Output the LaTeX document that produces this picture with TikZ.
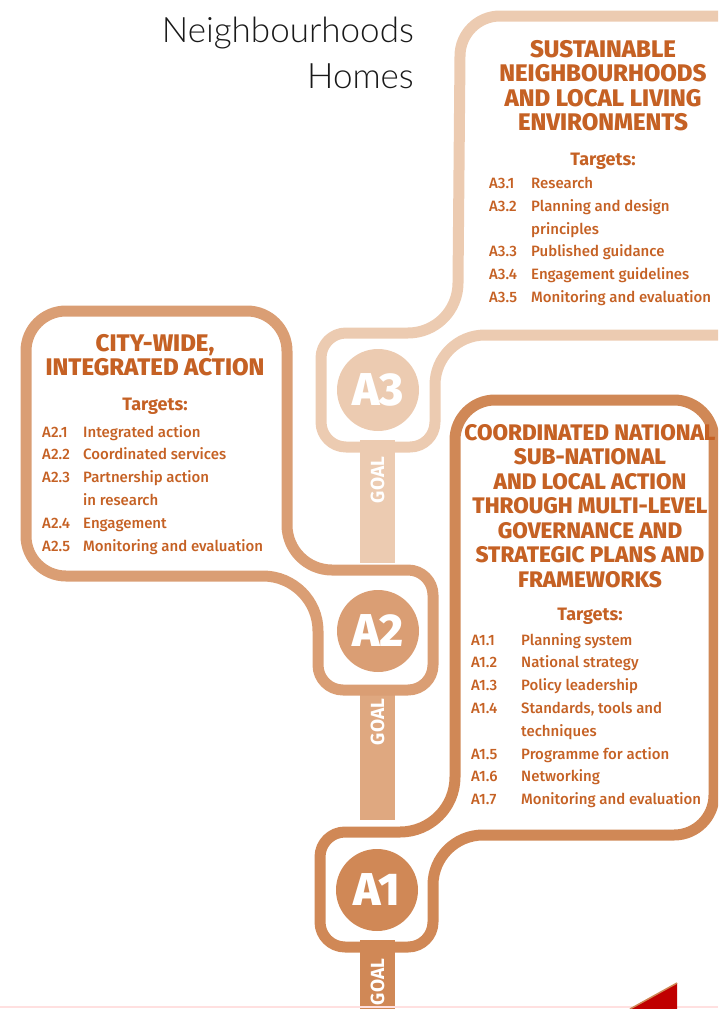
\documentclass[tikz,border=0pt]{standalone}
\usepackage{fontspec}
\setmainfont{Fira Sans}
\newfontfamily\ttlfont{Lato Light}
\newfontfamily\hdfont{Fira Sans ExtraBold}
\newfontfamily\itfont{Fira Sans Medium}
\usetikzlibrary{positioning}

\definecolor{gthree}{RGB}{236,203,177}
\definecolor{gtwo}{RGB}{218,158,116}
\definecolor{gtwostem}{RGB}{223,168,128}
\definecolor{gone}{RGB}{208,136,86}
\definecolor{txt}{RGB}{197,97,36}
\definecolor{redcorner}{RGB}{192,0,0}

% target line: label in a fixed box, then the text
\newcommand{\trg}[3][42pt]{\makebox[#1][l]{#2}#3}

\begin{document}
\begin{tikzpicture}[
	x=1pt, y=-1pt
	,rib/.style={line width=11pt, line join=round}
	,hd/.style={text=txt, align=center, inner sep=0pt, font=\hdfont\fontsize{24}{24.5}\selectfont}
	,tgh/.style={text=txt, inner sep=0pt, font=\bfseries\fontsize{18}{20}\selectfont}
	,tgl/.style={text=txt, align=left, inner sep=0pt, font=\itfont\fontsize{15}{22.8}\selectfont}
	,gc/.style={circle, inner sep=0pt, minimum size=82pt, text=white, font=\hdfont\fontsize{46}{46}\selectfont}
	,gl/.style={rotate=90, text=white, inner sep=0pt, font=\bfseries\fontsize{19}{19}\selectfont}
]
	\useasboundingbox (0,0) rectangle (718,1009);
	\clip (0,0) rectangle (718,1009);

	% title
	\node [anchor=base east, inner sep=0pt, text=black!90, font=\ttlfont\fontsize{35}{46}\selectfont] (ttl1) at (414,42) {Neighbourhoods};
	\node [anchor=base east, inner sep=0pt, text=black!90, font=\ttlfont\fontsize{35}{46}\selectfont] (ttl2) at (414,88) {Homes};

	% goal stems
	\fill [gthree] (360,440) rectangle (395,563);
	\fill [gtwostem] (360,685) rectangle (395,820);
	\fill [gone] (360,940) rectangle (395,1015);

	% A3 outline
	\draw [rib, gthree] (600,16) -- (740,16) -- (740,335) -- (485,335)
		arc [start angle=270, end angle=180, radius=50] -- (435,422)
		arc [start angle=0, end angle=90, radius=25] -- (346,447)
		arc [start angle=90, end angle=180, radius=25] -- (321,358)
		arc [start angle=180, end angle=270, radius=25] -- (408,333)
		arc [start angle=90, end angle=0, radius=50] -- (460,56)
		arc [start angle=180, end angle=270, radius=40] -- cycle;

	% A2 outline
	\draw [rib, gtwo] (150,311) -- (247,311)
		arc [start angle=270, end angle=360, radius=40] -- (287,525)
		arc [start angle=180, end angle=90, radius=45] -- (408,570)
		arc [start angle=270, end angle=360, radius=25] -- (433,665)
		arc [start angle=0, end angle=90, radius=25] -- (343,690)
		arc [start angle=90, end angle=180, radius=25] -- (318,631)
		arc [start angle=0, end angle=-90, radius=55] -- (66,576)
		arc [start angle=90, end angle=180, radius=40] -- (26,351)
		arc [start angle=180, end angle=270, radius=40] -- cycle;

	% A1 outline
	\draw [rib, gone] (600,400) -- (674,400)
		arc [start angle=270, end angle=360, radius=40] -- (714,795)
		arc [start angle=0, end angle=90, radius=40] -- (483,835)
		arc [start angle=270, end angle=180, radius=50] -- (433,922)
		arc [start angle=0, end angle=90, radius=25] -- (345,947)
		arc [start angle=90, end angle=180, radius=25] -- (320,857)
		arc [start angle=180, end angle=270, radius=25] -- (400,832)
		arc [start angle=90, end angle=0, radius=55] -- (455,440)
		arc [start angle=180, end angle=270, radius=40] -- cycle;

	% goal discs and stem labels
	\node [gc, fill=gthree] (c3) at (378,390) {A3};
	\node [gc, fill=gtwo] (c2) at (378,631) {A2};
	\node [gc, fill=gone] (c1) at (377,890) {A1};
	\node [gl] (g3) at (377.5,480) {GOAL};
	\node [gl] (g2) at (377.5,722) {GOAL};
	\node [gl] (g1) at (377.5,982) {GOAL};

	% A3 box
	\node [hd, anchor=north] (h3) at (603,40) {SUSTAINABLE\\NEIGHBOURHOODS\\AND LOCAL LIVING\\ENVIRONMENTS};
	\node [tgh, below=21pt of h3] (t3) {Targets:};
	\node [tgl, anchor=north west] (l3) at (489,177) {\trg{A3.1}{Research}\\
		\trg{A3.2}{Planning and design}\\
		\trg{}{principles}\\
		\trg{A3.3}{Published guidance}\\
		\trg{A3.4}{Engagement guidelines}\\
		\trg{A3.5}{Monitoring and evaluation}};

	% A2 box
	\node [hd, anchor=north] (h2) at (155,334) {CITY-WIDE,\\INTEGRATED ACTION};
	\node [tgh, below=21pt of h2] (t2) {Targets:};
	\node [tgl, anchor=north west] (l2) at (42,425) {\trg[41pt]{A2.1}{Integrated action}\\
		\trg[41pt]{A2.2}{Coordinated services}\\
		\trg[41pt]{A2.3}{Partnership action}\\
		\trg[41pt]{}{in research}\\
		\trg[41pt]{A2.4}{Engagement}\\
		\trg[41pt]{A2.5}{Monitoring and evaluation}};

	% A1 box
	\node [hd, anchor=north, font=\hdfont\fontsize{22.5}{24.5}\selectfont] (h1) at (590,424) {COORDINATED NATIONAL\\SUB-NATIONAL\\AND LOCAL ACTION\\THROUGH MULTI-LEVEL\\GOVERNANCE AND\\STRATEGIC PLANS AND\\FRAMEWORKS};
	\node [tgh, below=20pt of h1] (t1) {Targets:};
	\node [tgl, anchor=north west] (l1) at (471,633) {\trg[50pt]{A1.1}{Planning system}\\
		\trg[50pt]{A1.2}{National strategy}\\
		\trg[50pt]{A1.3}{Policy leadership}\\
		\trg[50pt]{A1.4}{Standards, tools and}\\
		\trg[50pt]{}{techniques}\\
		\trg[50pt]{A1.5}{Programme for action}\\
		\trg[50pt]{A1.6}{Networking}\\
		\trg[50pt]{A1.7}{Monitoring and evaluation}};

	% page corner
	\draw [red!12, line width=1.5pt] (0,1007) -- (718,1007);
	\fill [redcorner] (630,1009) -- (677,983) -- (677,1009) -- cycle;
	\draw [gone, line width=1.5pt] (630,1009) -- (677,983);
\end{tikzpicture}
\end{document}
